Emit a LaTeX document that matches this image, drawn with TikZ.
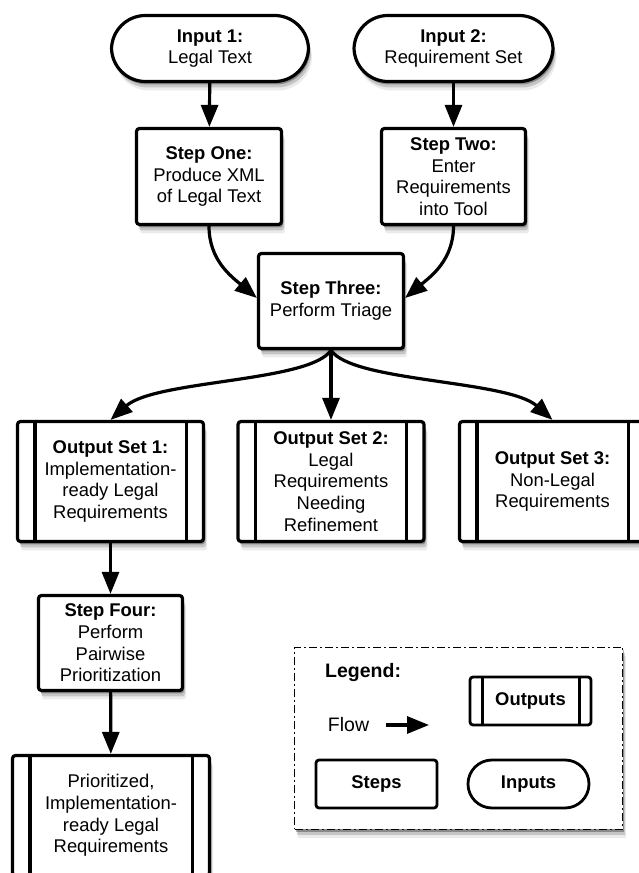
\documentclass[tikz,border=0pt]{standalone}
\usepackage{fontspec}
\setmainfont{Liberation Sans}
\usetikzlibrary{arrows.meta,shadows}
\begin{document}
\begin{tikzpicture}[x=1pt,y=1pt,
  every node/.style={font=\fontsize{18.4}{21.6}\selectfont, align=center, inner sep=0pt},
  shad/.style={drop shadow={shadow xshift=1.5pt,shadow yshift=-3pt,opacity=0.3,fill=black},
               drop shadow={shadow xshift=2.5pt,shadow yshift=-6pt,opacity=0.16,fill=black},
               drop shadow={shadow xshift=3.5pt,shadow yshift=-9pt,opacity=0.08,fill=black}},
  stepbox/.style={draw, line width=3.2pt, rounded corners=3pt, fill=white, shad},
  inbox/.style={draw, line width=3.2pt, rounded corners=34pt, fill=white, shad, minimum height=66pt},
  outbox/.style={draw, line width=3.2pt, rounded corners=3pt, fill=white, shad, minimum width=186pt, minimum height=120pt},
  arr/.style={line width=3.2pt, -{Triangle[length=22pt,width=17pt]}},
  legtext/.style={font=\fontsize{19.5}{22}\selectfont\bfseries}
]
\clip (0,0) rectangle (639,873);
\fill[white] (0,0) rectangle (639,873);

% inputs
\node[inbox, minimum width=197pt] (in1) at (210,824.5) {\textbf{Input 1:}\\Legal Text};
\node[inbox, minimum width=199pt] (in2) at (453.5,824.5) {\textbf{Input 2:}\\Requirement Set};

% steps
\node[stepbox, minimum width=145pt, minimum height=96pt] (s1) at (209,696.5) {\textbf{Step One:}\\Produce XML\\of Legal Text};
\node[stepbox, minimum width=144pt, minimum height=96pt] (s2) at (453.5,696.5) {\textbf{Step Two:}\\Enter\\Requirements\\into Tool};
\node[stepbox, minimum width=145pt, minimum height=95pt] (s3) at (331,572) {\textbf{Step Three:}\\Perform Triage};

% outputs
\node[outbox] (o1) at (110.5,391.5) {\textbf{Output Set 1:}\\Implementation-\\ready Legal\\Requirements};
\node[outbox] (o2) at (331,391.5) {\textbf{Output Set 2:}\\Legal\\Requirements\\Needing\\Refinement};
\node[outbox] (o3) at (552.5,391.5) {\textbf{Output Set 3:}\\Non-Legal\\Requirements};
\node[stepbox, minimum width=144pt, minimum height=95pt] (s4) at (110.5,230) {\textbf{Step Four:}\\Perform\\Pairwise\\Prioritization};
\node[outbox, minimum width=197pt] (o4) at (111,57.5) {Prioritized,\\Implementation-\\ready Legal\\Requirements};

\foreach \n in {o1,o2,o3,o4}{
  \draw[line width=3.2pt] ([xshift=19pt]\n.north west) -- ([xshift=19pt]\n.south west);
  \draw[line width=3.2pt] ([xshift=-19pt]\n.north east) -- ([xshift=-19pt]\n.south east);
}

% connectors
\draw[arr] (in1) -- (s1);
\draw[arr] (in2) -- (s2);
\draw[arr] (s1.south) to[out=-90,in=140] ([yshift=3pt]s3.west);
\draw[arr] (s2.south) to[out=-90,in=40] ([yshift=3pt]s3.east);
\draw[arr] (s3.south) .. controls +(-20,-32) and +(45,40) .. (o1.north);
\draw[arr] (s3.south) -- (o2.north);
\draw[arr] (s3.south) .. controls +(20,-32) and +(-45,40) .. (o3.north);
\draw[arr] (o1) -- (s4);
\draw[arr] (s4) -- (o4);

% legend
\node[draw, line width=1.8pt, dash pattern=on 8pt off 3pt on 2pt off 3pt, fill=white, shad,
      minimum width=328pt, minimum height=182pt] (leg) at (458.5,134.5) {};
\node[legtext, anchor=west] (legt) at (325,200) {Legend:};
\node[draw, line width=2.8pt, rounded corners=3pt, fill=white, minimum width=121pt, minimum height=48pt,
      font=\fontsize{18.4}{21.6}\selectfont\bfseries] (lout) at (530.5,172) {Outputs};
\draw[line width=2.8pt] ([xshift=14pt]lout.north west) -- ([xshift=14pt]lout.south west);
\draw[line width=2.8pt] ([xshift=-13pt]lout.north east) -- ([xshift=-13pt]lout.south east);
\node[font=\fontsize{19.5}{22}\selectfont] (flow) at (348.5,148) {Flow};
\coordinate (fa) at (386,148);
\coordinate (fb) at (429,148);
\draw[arr] (fa) -- (fb);
\node[draw, line width=2.8pt, rounded corners=3pt, fill=white, minimum width=121pt, minimum height=48pt,
      font=\fontsize{18.4}{21.6}\selectfont\bfseries] (lstep) at (376.5,89) {Steps};
\node[draw, line width=2.8pt, rounded corners=24pt, fill=white, minimum width=121pt, minimum height=48pt,
      font=\fontsize{18.4}{21.6}\selectfont\bfseries] (lin) at (528.5,89) {Inputs};
\end{tikzpicture}
\end{document}
